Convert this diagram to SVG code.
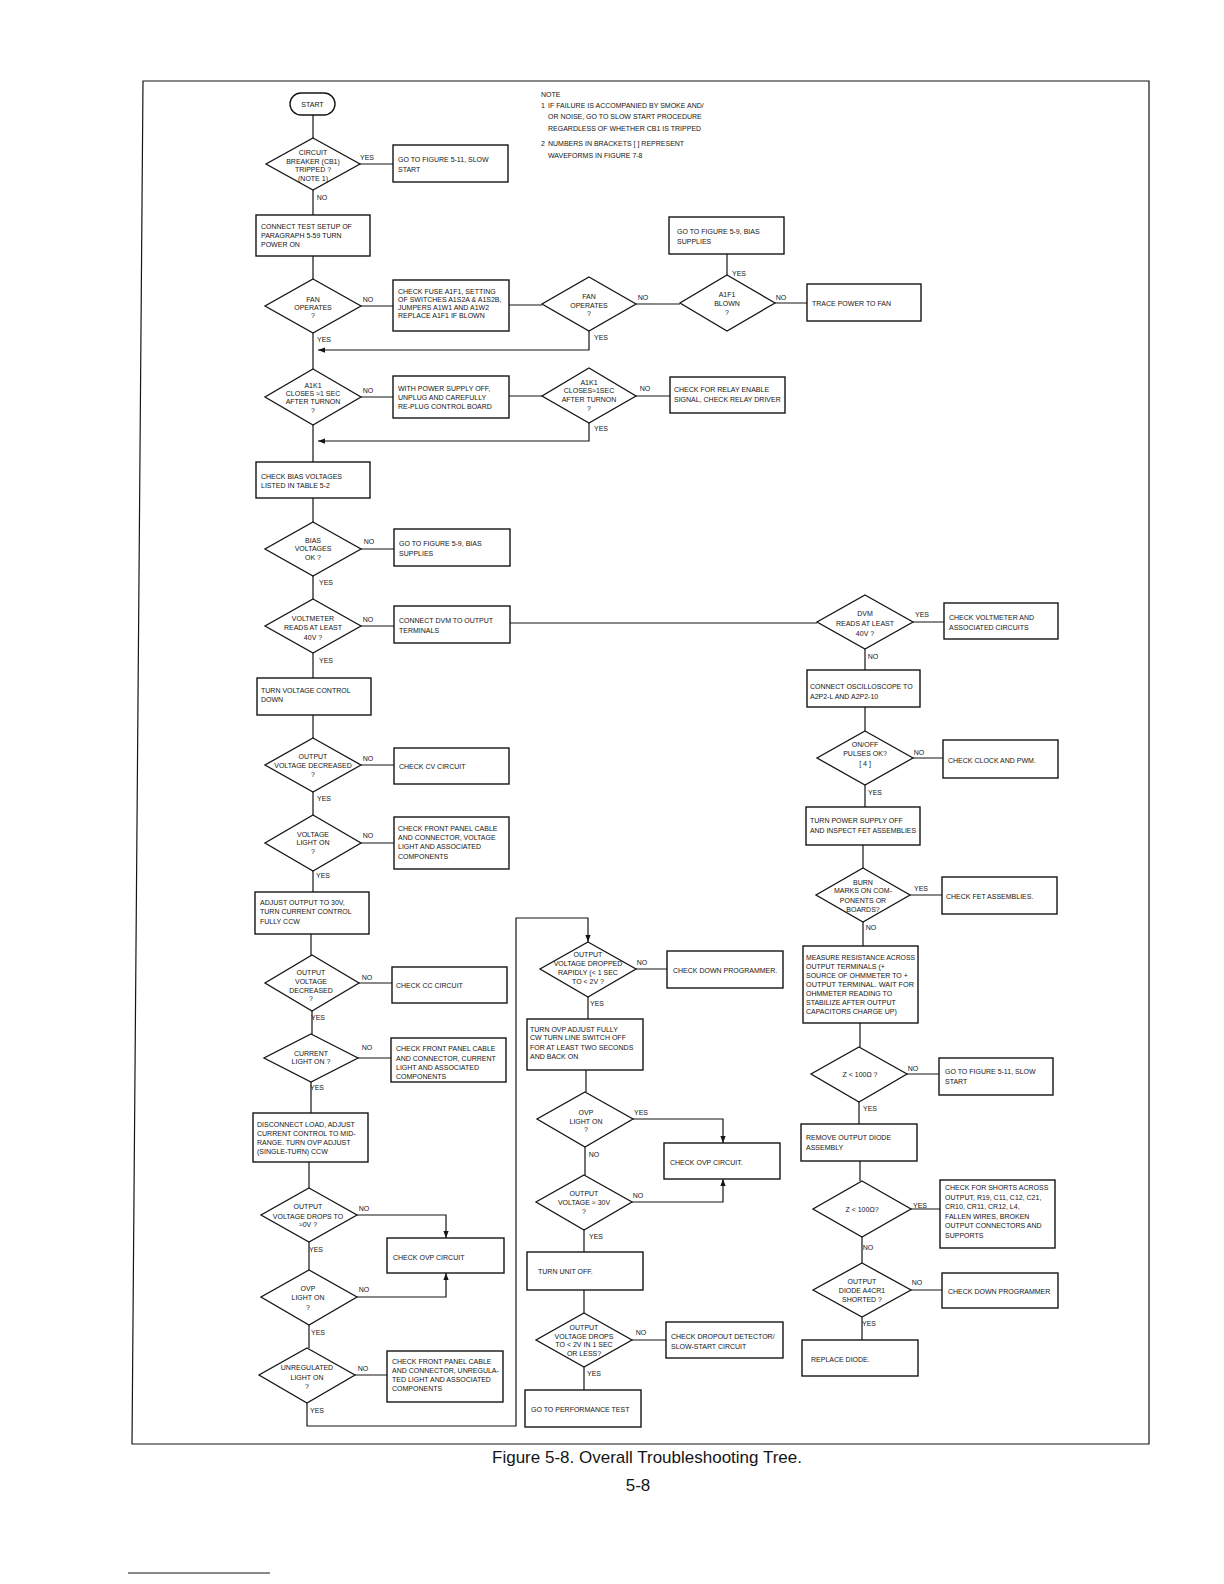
<svg xmlns="http://www.w3.org/2000/svg" width="1224" height="1584" viewBox="0 0 1224 1584">
<style>
.bx{fill:#fff;stroke:#151515;stroke-width:1.4}
.dm{fill:#fff;stroke:#151515;stroke-width:1.3}
.ln{fill:none;stroke:#151515;stroke-width:1.2}
.t{font-family:"Liberation Sans",Arial,sans-serif;font-size:7px;fill:#151515}
.c{text-anchor:middle}
.cap{font-family:"Liberation Sans",Arial,sans-serif;fill:#151515;text-anchor:middle}
</style>
<defs>
<marker id="ah" viewBox="0 0 8 8" refX="8" refY="4" markerWidth="7" markerHeight="7" markerUnits="userSpaceOnUse" orient="auto">
<path d="M0,1 L8,4 L0,7 Z" fill="#151515"/>
</marker>
</defs>
<rect width="1224" height="1584" fill="#fff"/>
<path class="ln" d="M143,81 H1149 V1444 H132 Z" stroke-width="1.6"/>
<path class="ln" d="M128,1573 H270" stroke-width="1"/>

<g id="note" class="t">
<text x="541" y="96.5">NOTE</text>
<text x="541" y="107.5">1</text>
<text x="548" y="107.5">IF FAILURE IS ACCOMPANIED BY SMOKE AND/</text>
<text x="548" y="118.5">OR NOISE, GO TO SLOW START PROCEDURE</text>
<text x="548" y="130.5">REGARDLESS OF WHETHER CB1 IS TRIPPED</text>
<text x="541" y="145.5">2</text>
<text x="548" y="145.5">NUMBERS IN BRACKETS [  ] REPRESENT</text>
<text x="548" y="157.5">WAVEFORMS IN FIGURE 7-8</text>
</g>

<g id="connectors">
<path class="ln" d="M313,115 V138 M359,164 H393 M313,190 V215 M313,256 V279 M313,333 V369 M361,306 H393 M509,305 H542 M636,304 H680 M775,303 H807 M727,275 V254"/>
<path class="ln" d="M589,331 V350 H318" marker-end="url(#ah)"/>
<path class="ln" d="M361,397 H393 M509,396 H542 M636,396 H670"/>
<path class="ln" d="M589,423 V441 H318" marker-end="url(#ah)"/>
<path class="ln" d="M313,425 V462 M313,498 V522 M361,549 H394 M313,576 V599 M361,626 H394 M510,623 H817 M913,622 H944 M865,649 V670 M865,707 V731 M913,758 H943 M865,785 V807 M863,845 V868 M910,895 H942 M863,922 V946 M860,1023 V1047 M907,1074 H939 M859,1102 V1124 M860,1161 V1181 M911,1209 H940 M862,1237 V1263 M911,1290 H942 M862,1317 V1340"/>
<path class="ln" d="M313,653 V678 M313,715 V738 M361,765 H394 M313,792 V815 M361,843 H394 M313,871 V892 M311,934 V955 M359,983 H392 M312,1011 V1034 M358,1058 H391 M311,1082 V1113 M309,1162 V1188 M309,1242 V1270 M309,1325 V1348 M355,1375 H387"/>
<path class="ln" d="M357,1215 H446 V1238" marker-end="url(#ah)"/>
<path class="ln" d="M357,1297 H446 V1273" marker-end="url(#ah)"/>
<path class="ln" d="M307,1403 V1426 H516 V918 H588 V942" marker-end="url(#ah)"/>
<path class="ln" d="M636,969 H667 M588,997 V1019 M586,1070 V1092 M585,1147 V1175 M584,1230 V1252 M584,1290 V1313 M632,1340 H666 M584,1367 V1390"/>
<path class="ln" d="M633,1119 H723 V1143" marker-end="url(#ah)"/>
<path class="ln" d="M632,1202 H723 V1179" marker-end="url(#ah)"/>
</g>

<g id="labels" class="t c">
<text x="367" y="159.5">YES</text><text x="322" y="199.5">NO</text>
<text x="368" y="301.5">NO</text><text x="324" y="341.5">YES</text>
<text x="643" y="299.5">NO</text><text x="601" y="339.5">YES</text>
<text x="781" y="299.5">NO</text><text x="739" y="275.5">YES</text>
<text x="368" y="392.5">NO</text>
<text x="645" y="390.5">NO</text><text x="601" y="430.5">YES</text>
<text x="369" y="543.5">NO</text><text x="326" y="584.5">YES</text>
<text x="368" y="621.5">NO</text><text x="326" y="662.5">YES</text>
<text x="922" y="616.5">YES</text><text x="873" y="658.5">NO</text>
<text x="919" y="754.5">NO</text><text x="875" y="794.5">YES</text>
<text x="921" y="890.5">YES</text><text x="871" y="929.5">NO</text>
<text x="913" y="1070.5">NO</text><text x="870" y="1110.5">YES</text>
<text x="920" y="1207.5">YES</text><text x="868" y="1249.5">NO</text>
<text x="917" y="1284.5">NO</text><text x="869" y="1325.5">YES</text>
<text x="368" y="760.5">NO</text><text x="324" y="800.5">YES</text>
<text x="368" y="837.5">NO</text><text x="323" y="877.5">YES</text>
<text x="367" y="979.5">NO</text><text x="318" y="1020">YES</text>
<text x="367" y="1049.5">NO</text><text x="317" y="1090">YES</text>
<text x="364" y="1210.5">NO</text><text x="316" y="1251.5">YES</text>
<text x="364" y="1291.5">NO</text><text x="318" y="1334.5">YES</text>
<text x="363" y="1370.5">NO</text><text x="317" y="1412.5">YES</text>
<text x="642" y="964.5">NO</text><text x="597" y="1005.5">YES</text>
<text x="641" y="1114.5">YES</text><text x="594" y="1156.5">NO</text>
<text x="638" y="1197.5">NO</text><text x="596" y="1238.5">YES</text>
<text x="641" y="1334.5">NO</text><text x="594" y="1375.5">YES</text>
</g>

<g id="start"><rect class="bx" x="290" y="93" width="45" height="22" rx="11"/><text class="t c" x="312.5" y="106.5">START</text></g>

<g id="d-cb1"><polygon class="dm" points="313,138 360,164 313,190 266,164"/>
<text class="t c" x="313" y="154.5">CIRCUIT</text><text class="t c" x="313" y="164">BREAKER (CB1)</text><text class="t c" x="313" y="171.5">TRIPPED ?</text><text class="t c" x="313" y="180.5">(NOTE 1)</text></g>

<g id="b-slowstart1"><rect class="bx" x="393" y="145" width="115" height="37"/>
<text class="t" x="398" y="161.5">GO TO FIGURE 5-11, SLOW</text><text class="t" x="398" y="171.5">START</text></g>

<g id="b-connect-test"><rect class="bx" x="256" y="215" width="114" height="41"/>
<text class="t" x="261" y="228.5">CONNECT TEST SETUP OF</text><text class="t" x="261" y="237.5">PARAGRAPH 5-59 TURN</text><text class="t" x="261" y="246.5">POWER ON</text></g>

<g id="d-fan1"><polygon class="dm" points="313,279 361,306 313,333 265,306"/>
<text class="t c" x="313" y="301.5">FAN</text><text class="t c" x="313" y="309.5">OPERATES</text><text class="t c" x="313" y="317.5">?</text></g>

<g id="b-check-fuse"><rect class="bx" x="393" y="280" width="116" height="51"/>
<text class="t" x="398" y="293.5">CHECK FUSE A1F1, SETTING</text><text class="t" x="398" y="301.5">OF SWITCHES A1S2A &amp; A1S2B,</text><text class="t" x="398" y="309.5">JUMPERS A1W1 AND A1W2</text><text class="t" x="398" y="317.5">REPLACE A1F1 IF BLOWN</text></g>

<g id="d-fan2"><polygon class="dm" points="589,277 636,304 589,331 542,304"/>
<text class="t c" x="589" y="298.5">FAN</text><text class="t c" x="589" y="307.5">OPERATES</text><text class="t c" x="589" y="315.5">?</text></g>

<g id="d-a1f1"><polygon class="dm" points="727,275 775,303 727,331 680,303"/>
<text class="t c" x="727" y="296.5">A1F1</text><text class="t c" x="727" y="305.5">BLOWN</text><text class="t c" x="727" y="314.5">?</text></g>

<g id="b-bias-top"><rect class="bx" x="669" y="217" width="115" height="37"/>
<text class="t" x="677" y="233.5">GO TO FIGURE 5-9, BIAS</text><text class="t" x="677" y="243.5">SUPPLIES</text></g>

<g id="b-trace"><rect class="bx" x="807" y="284" width="114" height="37"/>
<text class="t" x="812" y="305.5">TRACE POWER TO FAN</text></g>

<g id="d-a1k1a"><polygon class="dm" points="313,369 361,397 313,425 265,397"/>
<text class="t c" x="313" y="387.5">A1K1</text><text class="t c" x="313" y="395.5">CLOSES ≈1 SEC</text><text class="t c" x="313" y="403.5">AFTER TURNON</text><text class="t c" x="313" y="412.5">?</text></g>

<g id="b-with-power"><rect class="bx" x="393" y="376" width="116" height="42"/>
<text class="t" x="398" y="390.5">WITH POWER SUPPLY OFF,</text><text class="t" x="398" y="399.5">UNPLUG AND CAREFULLY</text><text class="t" x="398" y="408.5">RE-PLUG CONTROL BOARD</text></g>

<g id="d-a1k1b"><polygon class="dm" points="589,368 636,396 589,423 542,396"/>
<text class="t c" x="589" y="384.5">A1K1</text><text class="t c" x="589" y="392.5">CLOSES≈1SEC</text><text class="t c" x="589" y="401.5">AFTER TURNON</text><text class="t c" x="589" y="410.5">?</text></g>

<g id="b-relay"><rect class="bx" x="670" y="377" width="115" height="36"/>
<text class="t" x="674" y="391.5">CHECK FOR RELAY ENABLE</text><text class="t" x="674" y="401.5">SIGNAL, CHECK RELAY DRIVER</text></g>

<g id="b-check-bias"><rect class="bx" x="256" y="462" width="114" height="36"/>
<text class="t" x="261" y="478.5">CHECK BIAS VOLTAGES</text><text class="t" x="261" y="487.5">LISTED IN TABLE 5-2</text></g>

<g id="d-bias"><polygon class="dm" points="313,522 361,549 313,576 265,549"/>
<text class="t c" x="313" y="542.5">BIAS</text><text class="t c" x="313" y="550.5">VOLTAGES</text><text class="t c" x="313" y="559.5">OK ?</text></g>

<g id="b-bias-mid"><rect class="bx" x="394" y="529" width="116" height="37"/>
<text class="t" x="399" y="545.5">GO TO FIGURE 5-9, BIAS</text><text class="t" x="399" y="555.5">SUPPLIES</text></g>

<g id="d-voltmeter"><polygon class="dm" points="313,599 361,626 313,653 265,626"/>
<text class="t c" x="313" y="620.5">VOLTMETER</text><text class="t c" x="313" y="629.5">READS AT LEAST</text><text class="t c" x="313" y="639.5">40V ?</text></g>

<g id="b-connect-dvm"><rect class="bx" x="394" y="606" width="116" height="37"/>
<text class="t" x="399" y="622.5">CONNECT DVM TO OUTPUT</text><text class="t" x="399" y="632.5">TERMINALS</text></g>

<g id="d-dvm"><polygon class="dm" points="865,595 913,622 865,649 817,622"/>
<text class="t c" x="865" y="615.5">DVM</text><text class="t c" x="865" y="625.5">READS AT LEAST</text><text class="t c" x="865" y="635.5">40V ?</text></g>

<g id="b-check-voltmeter"><rect class="bx" x="944" y="603" width="114" height="36"/>
<text class="t" x="949" y="619.5">CHECK VOLTMETER AND</text><text class="t" x="949" y="629.5">ASSOCIATED CIRCUITS</text></g>

<g id="b-osc"><rect class="bx" x="807" y="670" width="113" height="37"/>
<text class="t" x="810" y="688.5">CONNECT OSCILLOSCOPE TO</text><text class="t" x="810" y="698.5">A2P2-L AND A2P2-10</text></g>

<g id="d-onoff"><polygon class="dm" points="865,731 913,758 865,785 817,758"/>
<text class="t c" x="865" y="746.5">ON/OFF</text><text class="t c" x="865" y="755.5">PULSES OK?</text><text class="t c" x="865" y="765.5">[ 4 ]</text></g>

<g id="b-clock"><rect class="bx" x="943" y="740" width="115" height="38"/>
<text class="t" x="948" y="762.5">CHECK CLOCK AND PWM.</text></g>

<g id="b-turn-power-off"><rect class="bx" x="806" y="807" width="114" height="38"/>
<text class="t" x="810" y="822.5">TURN POWER SUPPLY OFF</text><text class="t" x="810" y="833" textLength="106" lengthAdjust="spacingAndGlyphs">AND INSPECT FET ASSEMBLIES</text></g>

<g id="d-burn"><polygon class="dm" points="863,868 910,895 863,922 816,895"/>
<text class="t c" x="863" y="884.5">BURN</text><text class="t c" x="863" y="892.5">MARKS ON COM-</text><text class="t c" x="863" y="902.5">PONENTS OR</text><text class="t c" x="863" y="912">BOARDS?</text></g>

<g id="b-check-fet"><rect class="bx" x="942" y="877" width="115" height="37"/>
<text class="t" x="946" y="898.5">CHECK FET ASSEMBLIES.</text></g>

<g id="b-measure"><rect class="bx" x="803" y="946" width="115" height="77"/>
<text class="t" x="806" y="959.5" textLength="109" lengthAdjust="spacingAndGlyphs">MEASURE RESISTANCE ACROSS</text><text class="t" x="806" y="968.5">OUTPUT TERMINALS (+</text><text class="t" x="806" y="977.5">SOURCE OF OHMMETER TO +</text><text class="t" x="806" y="986.5" textLength="108" lengthAdjust="spacingAndGlyphs">OUTPUT TERMINAL. WAIT FOR</text><text class="t" x="806" y="995.5">OHMMETER READING TO</text><text class="t" x="806" y="1004.5">STABILIZE AFTER OUTPUT</text><text class="t" x="806" y="1014">CAPACITORS CHARGE UP)</text></g>

<g id="d-z1"><polygon class="dm" points="859,1047 907,1074 859,1102 811,1074"/>
<text class="t c" x="860" y="1076.5">Z  &lt; 100Ω ?</text></g>

<g id="b-slowstart2"><rect class="bx" x="939" y="1058" width="114" height="37"/>
<text class="t" x="945" y="1073.5">GO TO FIGURE 5-11, SLOW</text><text class="t" x="945" y="1083.5">START</text></g>

<g id="b-remove-diode"><rect class="bx" x="801" y="1124" width="116" height="37"/>
<text class="t" x="806" y="1139.5">REMOVE OUTPUT DIODE</text><text class="t" x="806" y="1149.5">ASSEMBLY</text></g>

<g id="d-z2"><polygon class="dm" points="862,1181 911,1209 862,1237 813,1209"/>
<text class="t c" x="862" y="1211.5">Z  &lt; 100Ω?</text></g>

<g id="b-shorts"><rect class="bx" x="940" y="1180" width="115" height="68"/>
<text class="t" x="945" y="1190">CHECK FOR SHORTS ACROSS</text><text class="t" x="945" y="1199.5">OUTPUT, R19, C11, C12, C21,</text><text class="t" x="945" y="1209">CR10, CR11, CR12, L4,</text><text class="t" x="945" y="1218.5">FALLEN WIRES, BROKEN</text><text class="t" x="945" y="1228">OUTPUT CONNECTORS AND</text><text class="t" x="945" y="1237.5">SUPPORTS</text></g>

<g id="d-diode"><polygon class="dm" points="862,1263 911,1290 862,1317 813,1290"/>
<text class="t c" x="862" y="1283.5">OUTPUT</text><text class="t c" x="862" y="1292.5">DIODE A4CR1</text><text class="t c" x="862" y="1301.5">SHORTED ?</text></g>

<g id="b-down-prog-right"><rect class="bx" x="942" y="1273" width="116" height="35"/>
<text class="t" x="948" y="1293.5">CHECK DOWN PROGRAMMER</text></g>

<g id="b-replace-diode"><rect class="bx" x="802" y="1340" width="116" height="36"/>
<text class="t" x="811" y="1361.5">REPLACE DIODE.</text></g>

<g id="b-turn-voltage"><rect class="bx" x="257" y="678" width="114" height="37"/>
<text class="t" x="261" y="692.5">TURN VOLTAGE CONTROL</text><text class="t" x="261" y="701.5">DOWN</text></g>

<g id="d-out-dec-cv"><polygon class="dm" points="313,738 361,765 313,792 265,765"/>
<text class="t c" x="313" y="758.5">OUTPUT</text><text class="t c" x="313" y="768">VOLTAGE DECREASED</text><text class="t c" x="313" y="776.5">?</text></g>

<g id="b-cv"><rect class="bx" x="394" y="748" width="115" height="36"/>
<text class="t" x="399" y="768.5">CHECK CV CIRCUIT</text></g>

<g id="d-vlight"><polygon class="dm" points="313,815 361,843 313,871 265,843"/>
<text class="t c" x="313" y="836.5">VOLTAGE</text><text class="t c" x="313" y="844.5">LIGHT ON</text><text class="t c" x="313" y="853.5">?</text></g>

<g id="b-front-voltage"><rect class="bx" x="394" y="817" width="115" height="52"/>
<text class="t" x="398" y="830.5">CHECK FRONT PANEL CABLE</text><text class="t" x="398" y="839.5">AND CONNECTOR, VOLTAGE</text><text class="t" x="398" y="849">LIGHT AND ASSOCIATED</text><text class="t" x="398" y="858.5">COMPONENTS</text></g>

<g id="b-adjust"><rect class="bx" x="255" y="892" width="114" height="42"/>
<text class="t" x="260" y="904.5">ADJUST OUTPUT TO 30V,</text><text class="t" x="260" y="913.5">TURN CURRENT CONTROL</text><text class="t" x="260" y="923.5">FULLY CCW</text></g>

<g id="d-out-dec-cc"><polygon class="dm" points="312,955 359,983 312,1011 265,983"/>
<text class="t c" x="311" y="974.5">OUTPUT</text><text class="t c" x="311" y="984">VOLTAGE</text><text class="t c" x="311" y="993">DECREASED</text><text class="t c" x="311" y="1001">?</text></g>

<g id="b-cc"><rect class="bx" x="392" y="967" width="115" height="36"/>
<text class="t" x="396" y="987.5">CHECK CC CIRCUIT</text></g>

<g id="d-clight"><polygon class="dm" points="311,1034 358,1058 311,1082 264,1058"/>
<text class="t c" x="311" y="1055.5">CURRENT</text><text class="t c" x="311" y="1064">LIGHT ON ?</text></g>

<g id="b-front-current"><rect class="bx" x="391" y="1038" width="115" height="44"/>
<text class="t" x="396" y="1050.5">CHECK FRONT PANEL CABLE</text><text class="t" x="396" y="1060.5">AND CONNECTOR, CURRENT</text><text class="t" x="396" y="1070">LIGHT AND ASSOCIATED</text><text class="t" x="396" y="1079">COMPONENTS</text></g>

<g id="b-disconnect"><rect class="bx" x="253" y="1113" width="115" height="49"/>
<text class="t" x="257" y="1126.5">DISCONNECT LOAD, ADJUST</text><text class="t" x="257" y="1135.5">CURRENT CONTROL TO MID-</text><text class="t" x="257" y="1144.5">RANGE. TURN OVP ADJUST</text><text class="t" x="257" y="1153.5">(SINGLE-TURN) CCW</text></g>

<g id="d-drops0"><polygon class="dm" points="309,1188 357,1215 309,1242 261,1215"/>
<text class="t c" x="308" y="1208.5">OUTPUT</text><text class="t c" x="308" y="1218.5">VOLTAGE DROPS TO</text><text class="t c" x="308" y="1226.5">≈0V ?</text></g>

<g id="b-ovp-left"><rect class="bx" x="387" y="1238" width="117" height="35"/>
<text class="t" x="393" y="1259.5">CHECK OVP CIRCUIT</text></g>

<g id="d-ovp-left"><polygon class="dm" points="309,1270 357,1297 309,1325 261,1297"/>
<text class="t c" x="308" y="1290.5">OVP</text><text class="t c" x="308" y="1299.5">LIGHT ON</text><text class="t c" x="308" y="1309.5">?</text></g>

<g id="d-unreg"><polygon class="dm" points="307,1348 355,1375 307,1403 259,1375"/>
<text class="t c" x="307" y="1369.5">UNREGULATED</text><text class="t c" x="307" y="1379.5">LIGHT ON</text><text class="t c" x="307" y="1388.5">?</text></g>

<g id="b-front-unreg"><rect class="bx" x="387" y="1351" width="116" height="51"/>
<text class="t" x="392" y="1363.5">CHECK FRONT PANEL CABLE</text><text class="t" x="392" y="1372.5">AND CONNECTOR, UNREGULA-</text><text class="t" x="392" y="1381.5">TED LIGHT AND ASSOCIATED</text><text class="t" x="392" y="1391">COMPONENTS</text></g>

<g id="d-dropped"><polygon class="dm" points="588,942 636,969 588,997 540,969"/>
<text class="t c" x="588" y="956.5">OUTPUT</text><text class="t c" x="588" y="965.5">VOLTAGE DROPPED</text><text class="t c" x="588" y="974.5">RAPIDLY (&lt; 1 SEC</text><text class="t c" x="588" y="983.5">TO &lt; 2V ?</text></g>

<g id="b-down-prog-mid"><rect class="bx" x="667" y="951" width="116" height="37"/>
<text class="t" x="673" y="972.5">CHECK DOWN PROGRAMMER.</text></g>

<g id="b-turn-ovp"><rect class="bx" x="527" y="1019" width="116" height="51"/>
<text class="t" x="530" y="1031.5">TURN OVP ADJUST FULLY</text><text class="t" x="530" y="1040">CW TURN LINE SWITCH OFF</text><text class="t" x="530" y="1049.5">FOR AT LEAST TWO SECONDS</text><text class="t" x="530" y="1058.5">AND BACK ON</text></g>

<g id="d-ovp-mid"><polygon class="dm" points="585,1092 633,1119 585,1147 537,1119"/>
<text class="t c" x="586" y="1114.5">OVP</text><text class="t c" x="586" y="1123.5">LIGHT  ON</text><text class="t c" x="586" y="1131.5">?</text></g>

<g id="b-ovp-mid"><rect class="bx" x="664" y="1143" width="116" height="36"/>
<text class="t" x="670" y="1164.5">CHECK OVP CIRCUIT.</text></g>

<g id="d-30v"><polygon class="dm" points="584,1175 632,1202 584,1230 536,1202"/>
<text class="t c" x="584" y="1195.5">OUTPUT</text><text class="t c" x="584" y="1204.5">VOLTAGE   ≈ 30V</text><text class="t c" x="584" y="1213.5">?</text></g>

<g id="b-unit-off"><rect class="bx" x="527" y="1252" width="116" height="38"/>
<text class="t" x="538" y="1273.5">TURN UNIT OFF.</text></g>

<g id="d-2v"><polygon class="dm" points="584,1313 632,1340 584,1367 536,1340"/>
<text class="t c" x="584" y="1329.5">OUTPUT</text><text class="t c" x="584" y="1338.5">VOLTAGE DROPS</text><text class="t c" x="584" y="1346.5">TO &lt; 2V IN 1 SEC</text><text class="t c" x="584" y="1355.5">OR LESS?</text></g>

<g id="b-dropout"><rect class="bx" x="666" y="1322" width="117" height="36"/>
<text class="t" x="671" y="1338.5">CHECK DROPOUT DETECTOR/</text><text class="t" x="671" y="1348.5">SLOW-START CIRCUIT</text></g>

<g id="b-perf"><rect class="bx" x="525" y="1390" width="116" height="37"/>
<text class="t" x="531" y="1411.5">GO TO PERFORMANCE  TEST</text></g>

<g id="caption">
<text class="cap" x="647" y="1463" font-size="17">Figure 5-8. Overall Troubleshooting Tree.</text>
<text class="cap" x="638" y="1491" font-size="17">5-8</text>
</g>
</svg>
